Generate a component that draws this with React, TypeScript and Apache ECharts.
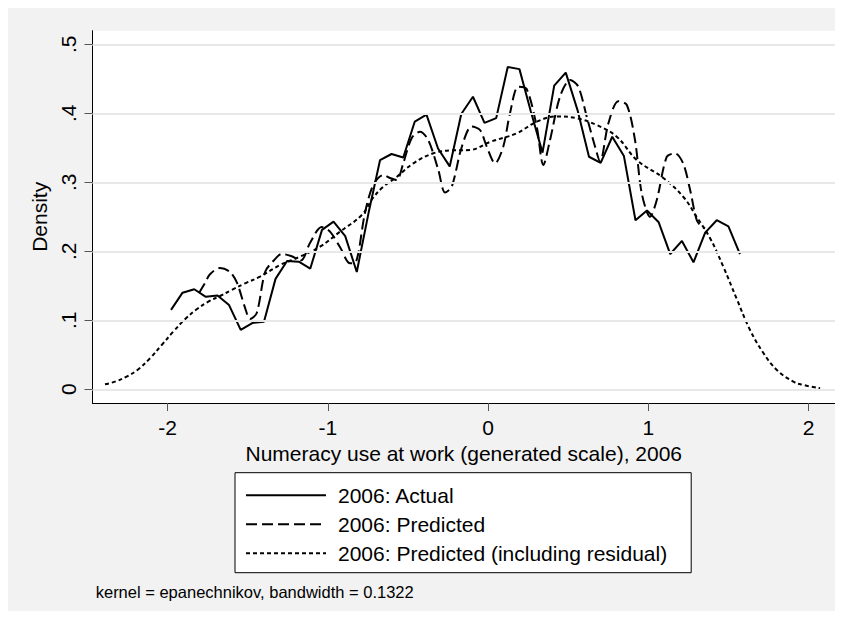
import React, { useEffect, useRef } from 'react';
import * as echarts from 'echarts';

// Stata kdensity grid (50 points) for the actual distribution
const actualX = [
  -1.978, -1.906, -1.833, -1.761, -1.688, -1.616, -1.543, -1.471, -1.398, -1.326,
  -1.254, -1.181, -1.109, -1.036, -0.964, -0.891, -0.819, -0.746, -0.674, -0.602,
  -0.529, -0.457, -0.384, -0.312, -0.239, -0.167, -0.094, -0.022, 0.051, 0.123,
  0.196, 0.268, 0.34, 0.413, 0.485, 0.558, 0.63, 0.703, 0.775, 0.848,
  0.92, 0.992, 1.065, 1.137, 1.21, 1.282, 1.355, 1.427, 1.5, 1.572,
];
const actualY = [
  0.115, 0.14, 0.145, 0.134, 0.136, 0.122, 0.086, 0.096, 0.098, 0.16,
  0.186, 0.185, 0.175, 0.231, 0.243, 0.222, 0.17, 0.255, 0.332, 0.341,
  0.336, 0.388, 0.398, 0.349, 0.323, 0.399, 0.424, 0.386, 0.393, 0.467,
  0.464, 0.402, 0.343, 0.44, 0.459, 0.405, 0.337, 0.328, 0.366, 0.338,
  0.245, 0.259, 0.242, 0.196, 0.215, 0.184, 0.227, 0.245, 0.236, 0.196,
];

const predX = [
  -1.803, -1.766, -1.735, -1.672, -1.61, -1.566, -1.516, -1.485, -1.443, -1.391,
  -1.34, -1.287, -1.229, -1.167, -1.111, -1.038, -0.986, -0.924, -0.861, -0.824,
  -0.768, -0.716, -0.653, -0.612, -0.57, -0.529, -0.476, -0.424, -0.373, -0.31,
  -0.268, -0.227, -0.164, -0.102, -0.05, -0.008, 0.044, 0.095, 0.137, 0.189,
  0.241, 0.304, 0.345, 0.387, 0.449, 0.512, 0.563, 0.616, 0.668, 0.699,
  0.751, 0.813, 0.866, 0.917, 0.959, 1.011, 1.053, 1.115, 1.167, 1.219,
  1.261, 1.302, 1.333, 1.354,
];
const predY = [
  0.1396, 0.1541, 0.1667, 0.1758, 0.1701, 0.1541, 0.118, 0.1019, 0.1106, 0.17,
  0.1859, 0.1961, 0.1932, 0.1867, 0.212, 0.2352, 0.2284, 0.2062, 0.1826, 0.1845,
  0.2555, 0.2961, 0.3106, 0.3062, 0.3033, 0.3275, 0.3642, 0.3733, 0.3613, 0.3178,
  0.2852, 0.2932, 0.3512, 0.3809, 0.3758, 0.3516, 0.3275, 0.3516, 0.4, 0.4386,
  0.4352, 0.3806, 0.3251, 0.3613, 0.4241, 0.4483, 0.4386, 0.3951, 0.3516, 0.3299,
  0.3855, 0.4175, 0.412, 0.3613, 0.2841, 0.2501, 0.2743, 0.3367, 0.342, 0.3265,
  0.2888, 0.2454, 0.2357, 0.2333,
];

const residX = [
  -2.39, -2.328, -2.255, -2.182, -2.109, -2.036, -1.964, -1.891, -1.818, -1.745,
  -1.672, -1.599, -1.516, -1.423, -1.298, -1.173, -1.048, -0.924, -0.788, -0.718,
  -0.655, -0.57, -0.466, -0.341, -0.237, -0.112, 0.012, 0.179, 0.304, 0.429,
  0.554, 0.678, 0.803, 0.928, 1.094, 1.219, 1.302, 1.385, 1.468, 1.552,
  1.635, 1.718, 1.802, 1.905, 1.968, 2.072,
];
const residY = [
  0.0072, 0.011, 0.0183, 0.029, 0.0449, 0.0642, 0.0835, 0.1014, 0.1159, 0.127,
  0.1352, 0.1439, 0.1536, 0.1632, 0.1801, 0.1922, 0.2067, 0.2284, 0.2526, 0.2772,
  0.2932, 0.3077, 0.3275, 0.342, 0.3461, 0.3468, 0.3584, 0.371, 0.3878, 0.3954,
  0.3928, 0.383, 0.3661, 0.3323, 0.3062, 0.2787, 0.2497, 0.2193, 0.1777, 0.1309,
  0.0859, 0.0526, 0.028, 0.011, 0.0062, 0.0014,
];

const xTicks = [-2, -1, 0, 1, 2];
const yTicks = [0, 0.1, 0.2, 0.3, 0.4, 0.5];
const seriesNames = ['2006: Actual', '2006: Predicted', '2006: Predicted (including residual)'];
const xTitle = 'Numeracy use at work (generated scale), 2006';
const yTitle = 'Density';
const noteText = 'kernel = epanechnikov, bandwidth = 0.1322';

const FONT = '"Liberation Sans", Arial, Helvetica, sans-serif';

function zip(xs: number[], ys: number[]) {
  return xs.map((x, i) => [x, ys[i]]);
}

export default function App() {
  const ref = useRef<HTMLDivElement>(null);

  useEffect(() => {
    if (!ref.current) return;
    const chart = echarts.init(ref.current, null, { renderer: 'svg' });
    chart.setOption({
      animation: false,
      backgroundColor: '#f2f2f2',
      textStyle: { fontFamily: FONT },
      grid: {
        left: 84.5,
        top: 22.7,
        right: 0,
        bottom: 208,
        show: true,
        backgroundColor: '#ffffff',
        borderWidth: 0,
      },
      xAxis: {
        type: 'value',
        min: -2.468,
        max: 2.165,
        axisLine: { show: true, onZero: false, lineStyle: { color: '#000', width: 1 } },
        axisTick: { show: true, customValues: xTicks, length: 8, lineStyle: { color: '#555', width: 1 } },
        axisLabel: { customValues: xTicks, fontSize: 21, color: '#000', margin: 14, fontFamily: FONT },
        splitLine: { show: false },
        name: xTitle,
        nameLocation: 'middle',
        nameGap: 33,
        nameTextStyle: { fontSize: 21, color: '#000', fontFamily: FONT },
      },
      yAxis: {
        type: 'value',
        min: -0.0199,
        max: 0.5197,
        axisLine: { show: true, onZero: false, lineStyle: { color: '#000', width: 1 } },
        axisTick: { show: true, customValues: yTicks, length: 8, lineStyle: { color: '#555', width: 1 } },
        axisLabel: {
          customValues: yTicks,
          rotate: 90,
          fontSize: 21,
          color: '#000',
          margin: 14,
          fontFamily: FONT,
          formatter: (v: number) => (v === 0 ? '0' : v.toFixed(1).replace(/^0\./, '.')),
        },
        splitLine: { show: false },
        name: yTitle,
        nameLocation: 'middle',
        nameGap: 31,
        nameRotate: 90,
        nameTextStyle: { fontSize: 21, color: '#000', fontFamily: FONT },
      },
      legend: {
        data: seriesNames,
        orient: 'vertical',
        left: 227,
        top: 464.7,
        itemWidth: 80,
        itemHeight: 14,
        itemGap: 8,
        padding: [12, 24, 9, 10],
        borderColor: '#000',
        borderWidth: 1,
        borderRadius: 0,
        backgroundColor: '#ffffff',
        selectedMode: false,
        itemStyle: { color: 'transparent', borderWidth: 0, opacity: 0 },
        textStyle: { fontSize: 21, color: '#000', fontFamily: FONT, padding: [0, 0, 0, 7] },
      },
      graphic: [
        {
          type: 'text',
          left: 87.7,
          top: 575,
          style: { text: noteText, fontSize: 16.5, fill: '#000', fontFamily: FONT },
        },
      ],
      series: [
        {
          name: 'grid',
          type: 'line',
          data: [],
          silent: true,
          z: 1,
          markLine: {
            silent: true,
            symbol: ['none', 'none'],
            label: { show: false },
            lineStyle: { color: '#e8e8e8', width: 2, type: 'solid' },
            data: yTicks.map((v) => ({ yAxis: v })),
          },
        },
        {
          name: seriesNames[0],
          type: 'line',
          data: zip(actualX, actualY),
          symbol: 'none',
          z: 3,
          lineStyle: { color: '#000', width: 2, type: 'solid' },
          itemStyle: { color: '#000' },
        },
        {
          name: seriesNames[1],
          type: 'line',
          data: zip(predX, predY),
          symbol: 'none',
          smooth: 0.3,
          z: 3,
          lineStyle: { color: '#000', width: 2, type: [11, 5] },
          itemStyle: { color: '#000' },
        },
        {
          name: seriesNames[2],
          type: 'line',
          data: zip(residX, residY),
          symbol: 'none',
          smooth: 0.4,
          z: 3,
          lineStyle: { color: '#000', width: 2, type: [4, 3] },
          itemStyle: { color: '#000' },
        },
      ],
    });
    return () => chart.dispose();
  }, []);

  return <div ref={ref} style={{ width: '100%', height: 603 }} />;
}
